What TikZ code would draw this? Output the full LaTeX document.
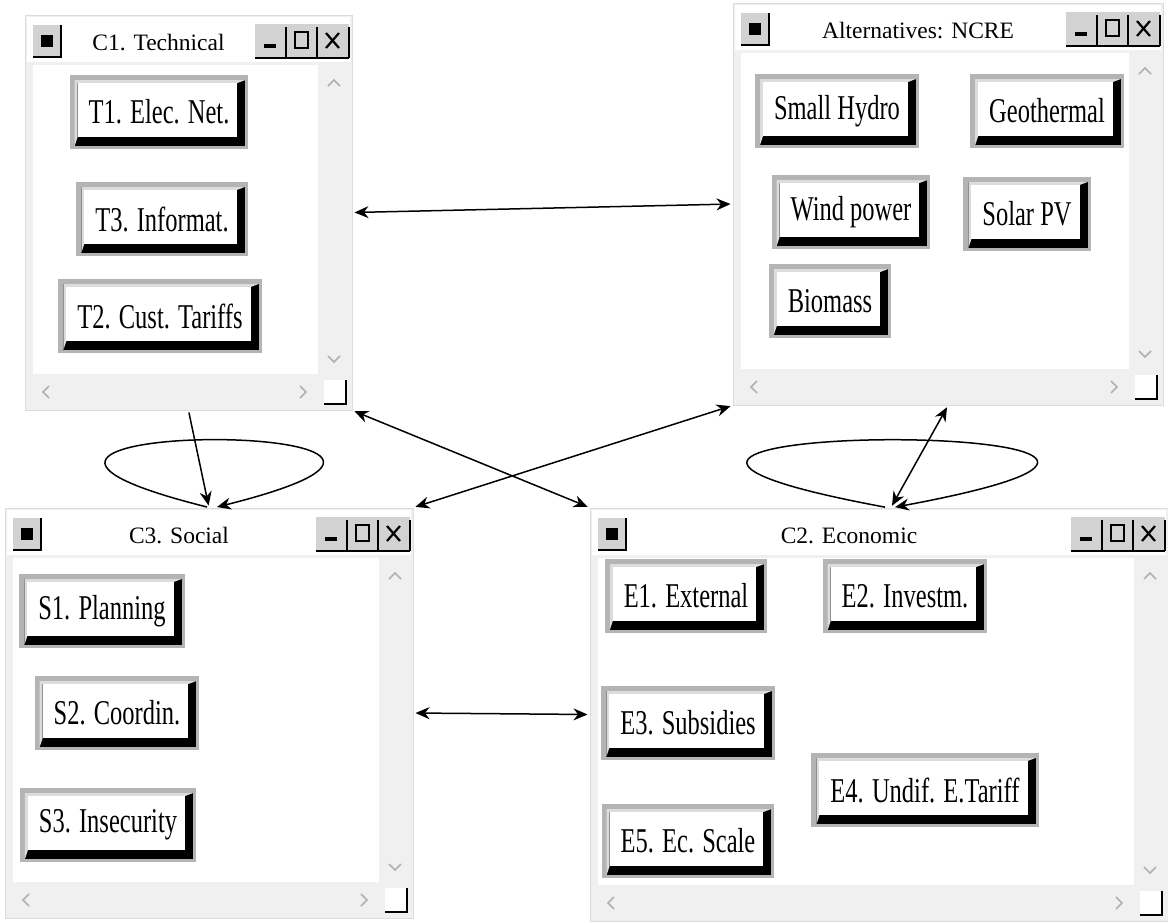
\documentclass[tikz,border=0pt]{standalone}
\usepackage{fontspec}
\setmainfont{Liberation Serif}
\usepackage{graphicx}
\usetikzlibrary{arrows.meta,fit}

\definecolor{wingray}{HTML}{F0F0F0}
\definecolor{winedge}{HTML}{DCDCDC}
\definecolor{framegray}{HTML}{B4B4B4}
\definecolor{bevelgray}{HTML}{DCDCDC}
\definecolor{ctrlgray}{HTML}{D2D2D2}
\definecolor{chevgray}{HTML}{B0B0B0}

\newcommand{\tall}[1]{\scalebox{1}[1.42]{#1}}

\tikzset{
  winframe/.style={draw=winedge, fill=wingray, line width=1pt, inner sep=0pt},
  wintitle/.style={font=\fontsize{23.5}{26}\selectfont, inner sep=0pt},
  chev/.style={draw=chevgray, line width=1.6pt},
  element/.style={rectangle, fill=framegray, inner xsep=19pt, inner ysep=0pt,
    minimum height=74pt, font=\fontsize{24.5}{28}\selectfont,
    path picture={
      \coordinate (pb) at ([xshift=5pt,yshift=3pt]path picture bounding box.south west);
      \coordinate (pt) at ([xshift=-3pt,yshift=-5pt]path picture bounding box.north east);
      \coordinate (pq) at (pb |- pt);
      \coordinate (fb) at ([xshift=3pt,yshift=9pt]pb);
      \coordinate (ft) at ([xshift=-8pt,yshift=-3pt]pt);
      \fill[black] (pb) rectangle (pt);
      \fill[bevelgray] (pb) -- (pq) -- (pt) -- (ft) -- (fb |- ft) -- (fb) -- cycle;
      \fill[white] (fb) rectangle (ft);
    }},
  link/.style={line width=1.5pt, >={Stealth[length=14pt,width=12pt]},
    shorten <=2pt, shorten >=2pt},
}

% cluster window: name, left, top, right, bottom, title
\newcommand{\clusterwin}[6]{%
  \node[winframe, fit={(#2,#3) (#4,#5)}] (#1) {};
  \fill[white] (#2+2,#3+2) rectangle (#4-2,#3+47);
  \fill[white] (#2+8,#3+50) rectangle (#4-34,#5-36);
  % system icon
  \fill[ctrlgray] (#2+8,#3+10) rectangle (#2+36,#3+42);
  \draw[line width=2pt] (#2+8,#3+42) -- (#2+36,#3+42) -- (#2+36,#3+10);
  \fill[black] (#2+16,#3+20) rectangle (#2+28,#3+32);
  % min / max / close
  \fill[ctrlgray] (#4-97,#3+9) rectangle (#4-3,#3+43);
  \draw[line width=2pt] (#4-97,#3+43) -- (#4-3,#3+43);
  \foreach \cx in {66,35,3} \draw[line width=2pt] (#4-\cx,#3+12) -- (#4-\cx,#3+43);
  \fill[black] (#4-88,#3+29) rectangle (#4-76,#3+33);
  \draw[line width=2pt] (#4-57,#3+17) rectangle (#4-44,#3+33);
  \draw[line width=2.2pt] (#4-26,#3+18) -- (#4-13,#3+33) (#4-26,#3+33) -- (#4-13,#3+18);
  % scroll bars
  \draw[chev] (#4-24,#3+71) -- (#4-18,#3+65) -- (#4-12,#3+71);
  \draw[chev] (#4-24,#5-54) -- (#4-18,#5-48) -- (#4-12,#5-54);
  \draw[chev] (#2+24,#5-24) -- (#2+18,#5-18) -- (#2+24,#5-12);
  \draw[chev] (#4-52,#5-24) -- (#4-46,#5-18) -- (#4-52,#5-12);
  \fill[white] (#4-28,#5-30) rectangle (#4-6,#5-6);
  \draw[line width=2.5pt] (#4-28,#5-6) -- (#4-6,#5-6) -- (#4-6,#5-30);
  \node[wintitle] (#1-title) at ({(#2+#4-60)/2},#3+28) {#6};
}

\begin{document}
\begin{tikzpicture}[x=1pt,y=-1pt]
  \useasboundingbox[fill=white] (0,0) rectangle (1168,922);

  \clusterwin{c1}{25}{15}{352}{410}{C1. Technical}
  \clusterwin{ncre}{733}{3}{1163}{405}{Alternatives: NCRE}
  \clusterwin{c3}{5}{508}{413}{918}{C3. Social}
  \clusterwin{c2}{590}{508}{1168}{921}{C2. Economic}

  \node (t1) at (159,112) [element] {\tall{T1. Elec. Net.}};
  \node (t3) at (162,219) [element] {\tall{T3. Informat.}};
  \node (t2) at (160,316) [element] {\tall{T2. Cust. Tariffs}};

  \node (hydro) at (837,111) [element] {\tall{Small Hydro}};
  \node (geo) at (1047,111) [element] {\tall{Geothermal}};
  \node (wind) at (851,212) [element] {\tall{Wind power}};
  \node (solar) at (1027,214) [element] {\tall{Solar PV}};
  \node (bio) at (830,301) [element] {\tall{Biomass}};

  \node (s1) at (102,611) [element] {\tall{S1. Planning}};
  \node (s2) at (117,713) [element] {\tall{S2. Coordin.}};
  \node (s3) at (108,825) [element] {\tall{S3. Insecurity}};

  \node (e1) at (686,596) [element] {\tall{E1. External}};
  \node (e2) at (905,596) [element] {\tall{E2. Investm.}};
  \node (e3) at (688,723) [element] {\tall{E3. Subsidies}};
  \node (e4) at (925,790) [element] {\tall{E4. Undif. E.Tariff}};
  \node (e5) at (688,841) [element] {\tall{E5. Ec. Scale}};

  \draw [link,<->] (c1.east) -- (ncre.west);
  \draw [link,->] (c1.south) -- (c3.north);
  \draw [link,->] (c3.north) .. controls +(-360,-90) and +(360,-90) .. ([xshift=6pt]c3.north);
  \draw [link,<->] (c1.south east) -- (c2.north west);
  \draw [link,<->] (ncre.south west) -- (c3.north east);
  \draw [link,<->] (ncre.south) -- ([xshift=12pt]c2.north);
  \draw [link,->] ([xshift=8pt]c2.north) .. controls +(-485,-90) and +(485,-90) .. ([xshift=14pt]c2.north);
  \draw [link,<->] (c3.east) -- (c2.west);
\end{tikzpicture}
\end{document}
